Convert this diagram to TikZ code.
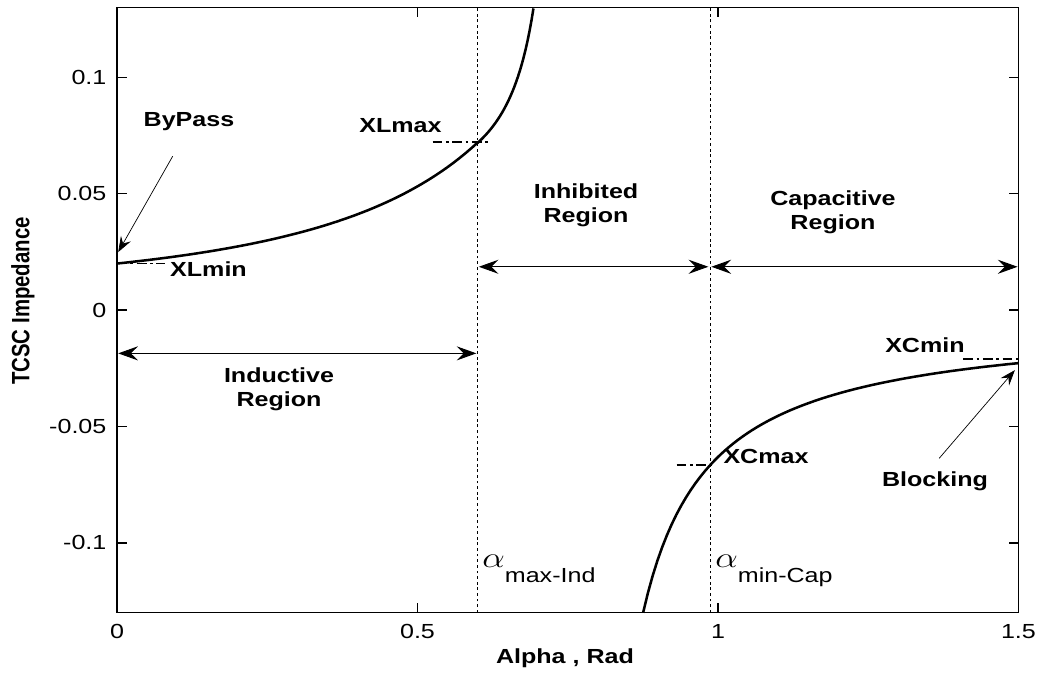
\documentclass[tikz,border=0pt]{standalone}
\usepackage{fontspec}
\setmainfont{Liberation Sans}
\usetikzlibrary{arrows.meta}

\begin{document}
\begin{tikzpicture}[x=15.025cm, y=58.2cm]
% styles
\tikzset{
txt/.style={font=\fontsize{14.5}{17}\selectfont, xscale=1.23, inner sep=0pt},
lbl/.style={txt, font=\bfseries\fontsize{14.5}{17}\selectfont, align=center},
curve/.style={line width=1.8pt, line join=round},
frame/.style={line width=1pt},
guide/.style={line width=0.6pt, dash pattern=on 2pt off 2pt},
level/.style={line width=1.3pt, dash pattern=on 7pt off 2.5pt on 2pt off 2.5pt},
span/.style={line width=0.7pt, {Stealth[length=14pt,width=10pt,inset=5pt]}-{Stealth[length=14pt,width=10pt,inset=5pt]}},
ptr/.style={line width=0.5pt, -{Stealth[length=11pt,width=8pt,inset=4pt]}}
}
\useasboundingbox (-0.1947,-0.1559) rectangle (1.5458,0.1332);

% axes box and ticks
\draw[frame] (0,-0.13) rectangle (1.5,0.13);
\foreach \x [count=\i] in {0,0.5,1,1.5} {
  \draw[frame] (\x,-0.13) -- ++(0,0.0043);
  \draw[frame] (\x,0.13) -- ++(0,-0.0043);
  \node[txt] (xt\i) at (\x,-0.1381) {\x};
}
\foreach \y [count=\i] in {0.1,0.05,0,-0.05,-0.1} {
  \draw[frame] (0,\y) -- ++(0.0166,0);
  \draw[frame] (1.5,\y) -- ++(-0.0166,0);
  \node[txt, anchor=east] (yt\i) at (-0.0171,\y) {\y};
}
\node[lbl] (xlab) at (0.7454,-0.1495) {Alpha , Rad};
\node[font=\bfseries\fontsize{14.5}{17}\selectfont, inner sep=0pt, rotate=90, yscale=1.23] (ylab) at (-0.1564,0.0039) {TCSC Impedance};

% limits of the regions
\draw[guide] (0.6,-0.13) -- (0.6,0.13);
\draw[guide] (0.9867,-0.13) -- (0.9867,0.13);

% impedance curve
\draw[curve] plot[domain=0:0.6, samples=60] (\x, {0.0188/(1-(2*\x+sin(2*\x r))/pi-0.0601)})
  -- plot[domain=0.6:0.6931, samples=30] (\x, {0.0376+0.00507/(0.748-\x)});
\draw[curve] plot[domain=0.8754:1.5, samples=80] (\x, {-0.00385-0.01393/(\x-0.765)});

% min / max levels
\draw[level] (0,0.0200) -- (0.08,0.0200);
\draw[level] (0.525,0.0723) -- (0.62,0.0723);
\draw[level] (0.931,-0.0666) -- (0.995,-0.0666);
\draw[level] (1.408,-0.0212) -- (1.5,-0.0212);
\node[lbl] (xlmin) at (0.1522,0.0174) {XLmin};
\node[lbl] (xlmax) at (0.4717,0.0792) {XLmax};
\node[lbl] (xcmax) at (1.0799,-0.0629) {XCmax};
\node[lbl] (xcmin) at (1.3444,-0.0150) {XCmin};

% regions
\coordinate (ind-l) at (0.002,-0.0186);
\coordinate (ind-r) at (0.598,-0.0186);
\coordinate (inh-l) at (0.602,0.0186);
\coordinate (inh-r) at (0.984,0.0186);
\coordinate (cap-l) at (0.989,0.0186);
\coordinate (cap-r) at (1.4985,0.0186);
\draw[span] (ind-l) -- (ind-r);
\draw[span] (inh-l) -- (inh-r);
\draw[span] (cap-l) -- (cap-r);
\node[lbl] (ind) at (0.2696,-0.0339) {Inductive\\Region};
\node[lbl] (inh) at (0.7804,0.0449) {Inhibited\\Region};
\node[lbl] (cap) at (1.1913,0.0421) {Capacitive\\Region};

% bypass and blocking
\node[lbl] (bypass) at (0.1198,0.0808) {ByPass};
\node[lbl] (blocking) at (1.361,-0.0735) {Blocking};
\coordinate (bypass-tail) at (0.0927,0.0661);
\coordinate (bypass-tip) at (0.002,0.0249);
\coordinate (blocking-tail) at (1.368,-0.0637);
\coordinate (blocking-tip) at (1.494,-0.0258);
\draw[ptr] (bypass-tail) -- (bypass-tip);
\draw[ptr] (blocking-tail) -- (blocking-tip);

% firing angle limits
\node[txt, anchor=base west] (amax) at (0.6073,-0.1108) {{\fontsize{21}{21}\selectfont$\alpha$}\raisebox{-10.6pt}{max-Ind}};
\node[txt, anchor=base west] (amin) at (0.995,-0.1108) {{\fontsize{21}{21}\selectfont$\alpha$}\raisebox{-10.6pt}{min-Cap}};
\end{tikzpicture}
\end{document}
